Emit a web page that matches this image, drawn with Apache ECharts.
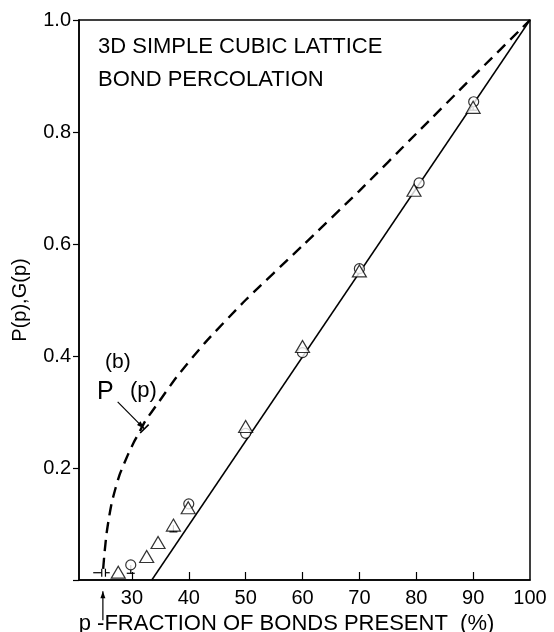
<!DOCTYPE html>
<html>
<head>
<meta charset="utf-8">
<script src="https://cdn.jsdelivr.net/npm/echarts@6/dist/echarts.min.js"></script>
<style>
html,body{margin:0;padding:0;background:#fff;}
#chart{width:554px;height:632px;}
</style>
</head>
<body>
<div id="chart"></div>
<script>
// ---- data ----
const xTickLabels = [30, 40, 50, 60, 70, 80, 90, 100];
const xTickMarks = [30, 40, 50, 60, 70, 80, 90];
const yTickLabels = [0.2, 0.4, 0.6, 0.8, 1.0];

// triangles
const triP = [27.6, 32.6, 34.6, 37.3, 39.9, 50.0, 60.0, 70.0, 79.6, 90.0];
const triG = [0.014, 0.042, 0.067, 0.098, 0.129, 0.274, 0.417, 0.552, 0.696, 0.844];
// circles
const cirP = [29.8, 40.0, 50.0, 60.0, 70.0, 80.5, 90.1];
const cirG = [0.027, 0.136, 0.262, 0.406, 0.556, 0.709, 0.854];

// straight fit line
const fitP = [33.5, 100];
const fitG = [0, 1.0];

// dashed P^(b)(p) curve
const percP = [24.95, 25.2, 25.55, 26.0, 26.5, 27.1, 27.8, 28.6, 29.4, 30.3, 31.2, 32.3, 34.6, 37.9, 42.8, 50, 60, 70, 80, 90, 100];
const percY = [0.02, 0.05, 0.083, 0.113, 0.14, 0.163, 0.187, 0.207, 0.226, 0.245, 0.262, 0.283, 0.316, 0.363, 0.423, 0.5, 0.597, 0.695, 0.797, 0.899, 1.0];

// error bars: x, top, low
const errX = [29.8, 37.3, 90.0];
const errTop = [0.027, 0.098, 0.844];
const errLow = [0.012, 0.086, 0.839];

// p_c marker
const pc = 24.9;
const pcArrowY = [-0.072, -0.02];
const pcBracketLeft = [23.2, 24.7];
const pcBracketRight = [25.35, 26.1];
const pcBracketY = 0.013;

// P^(b) label arrow
const pbArrowFrom = [27.5, 0.318];
const pbArrowTo = [32.2, 0.27];

const FONT = 'Liberation Sans';

const chart = echarts.init(document.getElementById('chart'), null, {renderer: 'canvas'});

function zip(a, b) { return a.map((v, i) => [v, b[i]]); }

function arrowHead(p0, p1, len, half) {
  const dx = p1[0] - p0[0], dy = p1[1] - p0[1];
  const L = Math.hypot(dx, dy);
  const ux = dx / L, uy = dy / L;
  const bx = p1[0] - ux * len, by = p1[1] - uy * len;
  return [p1, [bx - uy * half, by + ux * half], [bx + uy * half, by - ux * half]];
}

const option = {
  backgroundColor: '#fff',
  animation: false,
  grid: {left: 79, right: 24, top: 20, bottom: 52, show: true, borderColor: '#000', borderWidth: 1.5, containLabel: false, outerBoundsMode: 'none'},
  xAxis: {
    type: 'value', min: 20.7, max: 100,
    axisLine: {show: true, onZero: false, lineStyle: {color: '#000', width: 1.5}},
    axisTick: {show: true, inside: true, length: 8, customValues: xTickMarks, lineStyle: {color: '#000', width: 1.2}},
    axisLabel: {customValues: xTickLabels, color: '#000', fontFamily: FONT, fontSize: 20, margin: 8},
    splitLine: {show: false},
    name: 'p -FRACTION OF BONDS PRESENT  (%)', nameLocation: 'middle', nameGap: 25,
    nameTextStyle: {color: '#000', fontFamily: FONT, fontSize: 22, padding: [0, 36, 0, 0], verticalAlign: 'top'}
  },
  yAxis: {
    type: 'value', min: 0, max: 1, interval: 0.2,
    axisLine: {show: true, onZero: false, lineStyle: {color: '#000', width: 1.5}},
    axisTick: {show: true, inside: false, length: 6, lineStyle: {color: '#000', width: 1.2}},
    axisLabel: {color: '#000', fontFamily: FONT, fontSize: 20, margin: 8,
      formatter: v => (v === 0 ? '' : v.toFixed(1))},
    splitLine: {show: false},
    name: 'P(p),G(p)', nameLocation: 'middle', nameGap: 49,
    nameTextStyle: {color: '#000', fontFamily: FONT, fontSize: 20}
  },
  series: [
    {
      type: 'line', data: zip(percP, percY), smooth: 0.2, symbol: 'none', z: 2,
      lineStyle: {color: '#000', width: 2.4, type: [11, 7]}
    },
    {
      type: 'line', data: zip(fitP, fitG), symbol: 'none', z: 2,
      lineStyle: {color: '#000', width: 1.5}
    },
    {
      type: 'custom', z: 3, clip: false,
      data: errX.map((x, i) => [x, errTop[i], errLow[i]]),
      renderItem: (params, api) => {
        const a = api.coord([api.value(0), api.value(1)]);
        const b = api.coord([api.value(0), api.value(2)]);
        return {type: 'group', children: [
          {type: 'line', shape: {x1: a[0], y1: a[1], x2: b[0], y2: b[1]}, style: {stroke: '#000', lineWidth: 1.2}},
          {type: 'line', shape: {x1: b[0] - 4, y1: b[1], x2: b[0] + 4, y2: b[1]}, style: {stroke: '#000', lineWidth: 1.2}}
        ]};
      }
    },
    {
      type: 'scatter', data: zip(triP, triG), symbol: 'triangle', symbolSize: [14, 12], z: 5,
      itemStyle: {color: '#fff', borderColor: '#000', borderWidth: 1.2}
    },
    {
      type: 'scatter', data: zip(cirP, cirG), symbol: 'circle', symbolSize: 10, z: 4,
      itemStyle: {color: '#fff', borderColor: '#000', borderWidth: 1.2}
    },
    {
      // annotations: p_c arrow, p_c bracket, P^(b) pointer
      type: 'custom', z: 6, clip: false,
      data: [[0]],
      renderItem: (params, api) => {
        const s = {stroke: '#000', lineWidth: 1.2};
        const children = [];
        const a0 = api.coord([pc, pcArrowY[0]]);
        const a1 = api.coord([pc, pcArrowY[1]]);
        children.push({type: 'line', shape: {x1: a0[0], y1: a0[1], x2: a1[0], y2: a1[1]}, style: s});
        children.push({type: 'polygon', shape: {points: arrowHead(a0, a1, 7, 2.5)}, style: {fill: '#000'}});
        const l0 = api.coord([pcBracketLeft[0], pcBracketY]);
        const l1 = api.coord([pcBracketLeft[1], pcBracketY]);
        const r0 = api.coord([pcBracketRight[0], pcBracketY]);
        const r1 = api.coord([pcBracketRight[1], pcBracketY]);
        children.push({type: 'line', shape: {x1: l0[0], y1: l0[1], x2: l1[0], y2: l1[1]}, style: s});
        children.push({type: 'line', shape: {x1: l1[0], y1: l1[1] - 4, x2: l1[0], y2: l1[1] + 4}, style: s});
        children.push({type: 'line', shape: {x1: r0[0], y1: r0[1], x2: r1[0], y2: r1[1]}, style: s});
        children.push({type: 'line', shape: {x1: r0[0], y1: r0[1] - 4, x2: r0[0], y2: r0[1] + 4}, style: s});
        const p0 = api.coord(pbArrowFrom);
        const p1 = api.coord(pbArrowTo);
        children.push({type: 'line', shape: {x1: p0[0], y1: p0[1], x2: p1[0], y2: p1[1]}, style: s});
        children.push({type: 'polygon', shape: {points: arrowHead(p0, p1, 8, 2.5)}, style: {fill: '#000'}});
        const dx = p1[0] - p0[0], dy = p1[1] - p0[1], L = Math.hypot(dx, dy);
        const px = -dy / L * 6, py = dx / L * 6;
        children.push({type: 'line', shape: {x1: p1[0] - px, y1: p1[1] - py, x2: p1[0] + px, y2: p1[1] + py}, style: {stroke: '#000', lineWidth: 1.6}});
        return {type: 'group', children: children};
      }
    }
  ],
  graphic: [
    {type: 'text', left: 98, top: 36, style: {text: '3D SIMPLE CUBIC LATTICE', fill: '#000', font: '22px "Liberation Sans"'}},
    {type: 'text', left: 98, top: 69, style: {text: 'BOND PERCOLATION', fill: '#000', font: '22px "Liberation Sans"'}},
    {type: 'text', left: 105, top: 352, style: {text: '(b)', fill: '#000', font: '21px "Liberation Sans"'}},
    {type: 'text', left: 97, top: 380, style: {text: 'P', fill: '#000', font: '25px "Liberation Sans"'}},
    {type: 'text', left: 130, top: 380, style: {text: '(p)', fill: '#000', font: '22px "Liberation Sans"'}}
  ]
};
chart.setOption(option);
</script>
</body>
</html>
